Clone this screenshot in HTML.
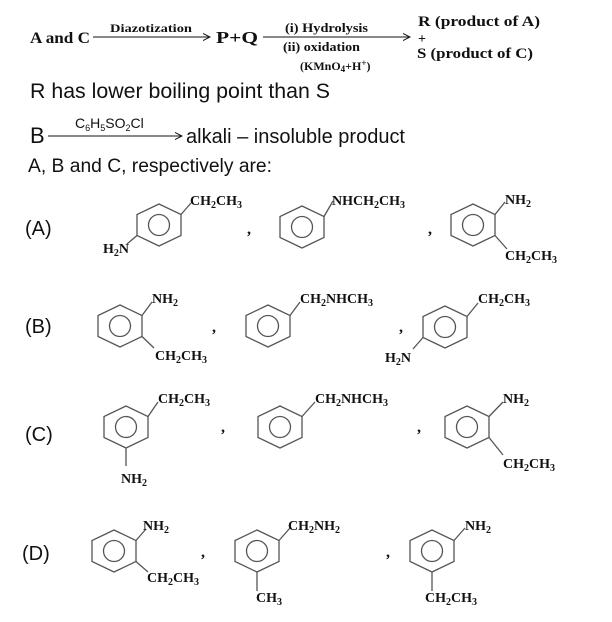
<!DOCTYPE html>
<html><head><style>
html,body{margin:0;padding:0;background:#fff;width:612px;height:622px;overflow:hidden}
svg{display:block}
.s{font-family:"Liberation Serif",serif;font-size:14px;fill:#111}
.a{font-family:"Liberation Sans",sans-serif;fill:#111}
.r{fill:none;stroke:#555;stroke-width:1.3}
</style></head><body>
<svg width="612" height="622" viewBox="0 0 612 622" xmlns="http://www.w3.org/2000/svg">
<defs>
<g id="ring"><polygon class="r" points="0,-21 22,-10.5 22,10.5 0,21 -22,10.5 -22,-10.5"/><circle class="r" cx="0" cy="0" r="10.5"/></g>
<marker id="ah" markerWidth="8" markerHeight="8" refX="7" refY="4" orient="auto"><path d="M0,0.5 L7,4 L0,7.5" fill="none" stroke="#111" stroke-width="1"/></marker>
</defs>
<g class="s" font-weight="bold">
<text x="30" y="43" style="font-size:16px" textLength="60" lengthAdjust="spacingAndGlyphs">A and C</text>
<text x="110" y="32" style="font-size:12px" textLength="82" lengthAdjust="spacingAndGlyphs">Diazotization</text>
<text x="216" y="43" style="font-size:17px" textLength="42" lengthAdjust="spacingAndGlyphs">P+Q</text>
<text x="285" y="32" style="font-size:13px" textLength="83" lengthAdjust="spacingAndGlyphs">(i) Hydrolysis</text>
<text x="283" y="51" style="font-size:13px" textLength="77" lengthAdjust="spacingAndGlyphs">(ii) oxidation</text>
<text x="300" y="70" style="font-size:12px">(KMnO<tspan font-size="9" dy="2">4</tspan><tspan dy="-2">+H</tspan><tspan font-size="9" dy="-4">+</tspan><tspan dy="4">)</tspan></text>
<text x="418" y="26" style="font-size:15px" textLength="122" lengthAdjust="spacingAndGlyphs">R (product of A)</text>
<text x="418" y="43" style="font-size:14px">+</text>
<text x="417" y="58" style="font-size:15px" textLength="116" lengthAdjust="spacingAndGlyphs">S (product of C)</text>
</g>
<line x1="93" y1="37" x2="210" y2="37" stroke="#111" stroke-width="1" marker-end="url(#ah)"/>
<line x1="263" y1="37" x2="410" y2="37" stroke="#111" stroke-width="1" marker-end="url(#ah)"/>
<text class="a" x="30" y="98" style="font-size:21px" textLength="300" lengthAdjust="spacingAndGlyphs">R has lower boiling point than S</text>
<text class="a" x="30" y="143" style="font-size:22px">B</text>
<line x1="48" y1="136" x2="182" y2="136" stroke="#111" stroke-width="1" marker-end="url(#ah)"/>
<text class="a" x="75" y="128" style="font-size:14px">C<tspan font-size="9" dy="3">6</tspan><tspan dy="-3">H</tspan><tspan font-size="9" dy="3">5</tspan><tspan dy="-3">SO</tspan><tspan font-size="9" dy="3">2</tspan><tspan dy="-3">Cl</tspan></text>
<text class="a" x="186" y="143" style="font-size:20px" textLength="219" lengthAdjust="spacingAndGlyphs">alkali – insoluble product</text>
<text class="a" x="28" y="172" style="font-size:19px" textLength="244" lengthAdjust="spacingAndGlyphs">A, B and C, respectively are:</text>

<g class="a" style="font-size:20px">
<text x="25" y="235">(A)</text><text x="25" y="333">(B)</text><text x="25" y="441">(C)</text><text x="22" y="560">(D)</text>
</g>

<g stroke="#555" stroke-width="1.3">
<!-- A1 (159,225) -->
<line x1="181" y1="214.5" x2="191" y2="203"/><line x1="137" y1="235.5" x2="127" y2="244"/>
<!-- A2 (302,227) -->
<line x1="324" y1="216.5" x2="333" y2="201"/>
<!-- A3 (473,225) -->
<line x1="495" y1="214.5" x2="505" y2="202"/><line x1="495" y1="235.5" x2="507" y2="249"/>
<!-- B1 (120,326) -->
<line x1="142" y1="315.5" x2="152" y2="302"/><line x1="142" y1="336.5" x2="154" y2="348"/>
<!-- B2 (268,326) -->
<line x1="290" y1="315.5" x2="300" y2="302"/>
<!-- B3 (445,327) -->
<line x1="467" y1="316.5" x2="478" y2="303"/><line x1="423" y1="337.5" x2="413" y2="349"/>
<!-- C1 (126,427) -->
<line x1="148" y1="416.5" x2="158" y2="402"/><line x1="126" y1="448" x2="126" y2="466"/>
<!-- C2 (280,427) -->
<line x1="302" y1="416.5" x2="315" y2="402"/>
<!-- C3 (467,427) -->
<line x1="489" y1="416.5" x2="503" y2="402"/><line x1="489" y1="437.5" x2="503" y2="455"/>
<!-- D1 (114,551) -->
<line x1="136" y1="540.5" x2="146" y2="529"/><line x1="136" y1="561.5" x2="148" y2="572"/>
<!-- D2 (257,551) -->
<line x1="279" y1="540.5" x2="290" y2="528"/><line x1="257" y1="572" x2="257" y2="591"/>
<!-- D3 (432,551) -->
<line x1="454" y1="540.5" x2="465" y2="528"/><line x1="432" y1="572" x2="432" y2="591"/>
</g>

<use href="#ring" x="159" y="225"/>
<use href="#ring" x="302" y="227"/>
<use href="#ring" x="473" y="225"/>
<use href="#ring" x="120" y="326"/>
<use href="#ring" x="268" y="326"/>
<use href="#ring" x="445" y="327"/>
<use href="#ring" x="126" y="427"/>
<use href="#ring" x="280" y="427"/>
<use href="#ring" x="467" y="427"/>
<use href="#ring" x="114" y="551"/>
<use href="#ring" x="257" y="551"/>
<use href="#ring" x="432" y="551"/>

<g class="s" style="font-size:14px" font-weight="bold">
<text x="190" y="205">CH<tspan font-size="10" dy="3">2</tspan><tspan dy="-3">CH</tspan><tspan font-size="10" dy="3">3</tspan></text>
<text x="103" y="253">H<tspan font-size="10" dy="3">2</tspan><tspan dy="-3">N</tspan></text>
<text x="332" y="205">NHCH<tspan font-size="10" dy="3">2</tspan><tspan dy="-3">CH</tspan><tspan font-size="10" dy="3">3</tspan></text>
<text x="505" y="204">NH<tspan font-size="10" dy="3">2</tspan></text>
<text x="505" y="260">CH<tspan font-size="10" dy="3">2</tspan><tspan dy="-3">CH</tspan><tspan font-size="10" dy="3">3</tspan></text>
<text x="152" y="303">NH<tspan font-size="10" dy="3">2</tspan></text>
<text x="155" y="360">CH<tspan font-size="10" dy="3">2</tspan><tspan dy="-3">CH</tspan><tspan font-size="10" dy="3">3</tspan></text>
<text x="300" y="303">CH<tspan font-size="10" dy="3">2</tspan><tspan dy="-3">NHCH</tspan><tspan font-size="10" dy="3">3</tspan></text>
<text x="478" y="303">CH<tspan font-size="10" dy="3">2</tspan><tspan dy="-3">CH</tspan><tspan font-size="10" dy="3">3</tspan></text>
<text x="385" y="362">H<tspan font-size="10" dy="3">2</tspan><tspan dy="-3">N</tspan></text>
<text x="158" y="403">CH<tspan font-size="10" dy="3">2</tspan><tspan dy="-3">CH</tspan><tspan font-size="10" dy="3">3</tspan></text>
<text x="121" y="483">NH<tspan font-size="10" dy="3">2</tspan></text>
<text x="315" y="403">CH<tspan font-size="10" dy="3">2</tspan><tspan dy="-3">NHCH</tspan><tspan font-size="10" dy="3">3</tspan></text>
<text x="503" y="403">NH<tspan font-size="10" dy="3">2</tspan></text>
<text x="503" y="468">CH<tspan font-size="10" dy="3">2</tspan><tspan dy="-3">CH</tspan><tspan font-size="10" dy="3">3</tspan></text>
<text x="143" y="530">NH<tspan font-size="10" dy="3">2</tspan></text>
<text x="147" y="582">CH<tspan font-size="10" dy="3">2</tspan><tspan dy="-3">CH</tspan><tspan font-size="10" dy="3">3</tspan></text>
<text x="288" y="530">CH<tspan font-size="10" dy="3">2</tspan><tspan dy="-3">NH</tspan><tspan font-size="10" dy="3">2</tspan></text>
<text x="256" y="602">CH<tspan font-size="10" dy="3">3</tspan></text>
<text x="465" y="530">NH<tspan font-size="10" dy="3">2</tspan></text>
<text x="425" y="602">CH<tspan font-size="10" dy="3">2</tspan><tspan dy="-3">CH</tspan><tspan font-size="10" dy="3">3</tspan></text>
</g>
<g class="s" style="font-size:16px" font-weight="bold">
<text x="247" y="234">,</text><text x="428" y="234">,</text>
<text x="212" y="332">,</text><text x="399" y="332">,</text>
<text x="221" y="432">,</text><text x="417" y="432">,</text>
<text x="201" y="557">,</text><text x="386" y="557">,</text>
</g>
</svg>
</body></html>
